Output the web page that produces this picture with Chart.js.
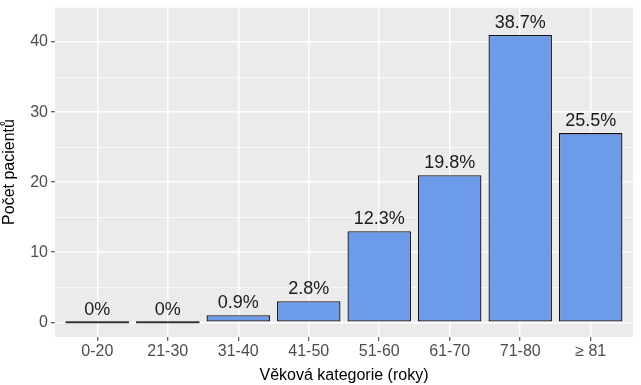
<!DOCTYPE html>
<html lang="cs">
<head>
<meta charset="UTF-8">
<title>Věková kategorie</title>
<script src="https://cdn.jsdelivr.net/npm/chart.js"></script>
<style>
  body { margin: 0; background: #fff; }
</style>
</head>
<body>
<canvas id="myChart" width="641" height="385"></canvas>
<script>
  const categories = ['0-20', '21-30', '31-40', '41-50', '51-60', '61-70', '71-80', '≥ 81'];
  const patients = [0, 0, 1, 3, 13, 21, 41, 27];
  const yTicks = [0, 5, 10, 15, 20, 25, 30, 35, 40, 45];

  const total = patients.reduce((a, b) => a + b, 0);
  const font = 'Liberation Sans, Arial, sans-serif';

  const panelBg = {
    id: 'panelBg',
    beforeDraw(chart) {
      const a = chart.chartArea;
      const c = chart.ctx;
      c.save();
      c.fillStyle = '#EBEBEB';
      c.fillRect(a.left, a.top, a.right - a.left, a.bottom - a.top);
      c.restore();
    }
  };

  const barLabels = {
    id: 'barLabels',
    afterDatasetsDraw(chart) {
      const c = chart.ctx;
      const meta = chart.getDatasetMeta(0);
      const y0 = chart.scales.y.getPixelForValue(0);
      c.save();
      meta.data.forEach((bar, i) => {
        const v = patients[i];
        if (v === 0) {
          c.strokeStyle = '#333333';
          c.lineWidth = 2;
          c.beginPath();
          c.moveTo(bar.x - bar.width / 2, y0);
          c.lineTo(bar.x + bar.width / 2, y0);
          c.stroke();
        }
        const txt = v === 0 ? '0%' : (v / total * 100).toFixed(1) + '%';
        c.fillStyle = '#1A1A1A';
        c.font = '18px ' + font;
        c.textAlign = 'center';
        c.textBaseline = 'alphabetic';
        c.fillText(txt, bar.x, bar.y - 7);
      });
      c.restore();
    }
  };

  new Chart(document.getElementById('myChart'), {
    type: 'bar',
    data: {
      datasets: [{
        data: patients.map((v, i) => ({ x: i + 1, y: v })),
        backgroundColor: '#6C9BEA',
        borderColor: '#111111',
        borderWidth: 1.3,
        borderSkipped: false,
        barPercentage: 0.9,
        categoryPercentage: 1
      }]
    },
    options: {
      responsive: false,
      animation: false,
      layout: { padding: { top: 7, right: 8, left: 0, bottom: 0 } },
      plugins: { legend: { display: false }, tooltip: { enabled: false } },
      scales: {
        x: {
          type: 'linear',
          min: 0.4,
          max: 8.6,
          offset: false,
          afterBuildTicks: s => { s.ticks = categories.map((c, i) => ({ value: i + 1 })); },
          afterFit: s => { s.height = 48; s.paddingLeft = 0; s.paddingRight = 0; },
          border: { display: false },
          grid: { offset: false, color: '#FFFFFF', lineWidth: 1.5, tickColor: '#333333', tickLength: 4, tickWidth: 1 },
          ticks: {
            autoSkip: false,
            maxRotation: 0,
            padding: 1,
            color: '#4D4D4D',
            font: { family: font, size: 16 },
            callback: v => categories[v - 1]
          },
          title: {
            display: true,
            text: 'Věková kategorie (roky)',
            color: '#000000',
            font: { family: font, size: 16 },
            padding: { top: 2, bottom: 0 }
          }
        },
        y: {
          min: -2.1,
          max: 45,
          afterBuildTicks: s => { s.ticks = yTicks.map(v => ({ value: v })); },
          afterFit: s => { s.width = 55; s.paddingTop = 0; s.paddingBottom = 0; },
          border: { display: false },
          grid: {
            color: '#FFFFFF',
            lineWidth: c => c.tick && c.tick.value % 10 === 0 ? 1.5 : 0.7,
            tickColor: c => c.tick && c.tick.value % 10 === 0 ? '#333333' : 'rgba(0,0,0,0)',
            tickLength: 4,
            tickWidth: 1
          },
          ticks: {
            padding: 3,
            color: '#4D4D4D',
            font: { family: font, size: 16 },
            callback: v => v % 10 === 0 ? String(v) : ''
          },
          title: {
            display: true,
            text: 'Počet pacientů',
            color: '#000000',
            font: { family: font, size: 16 },
            padding: { top: 0, bottom: 4 }
          }
        }
      }
    },
    plugins: [panelBg, barLabels]
  });
</script>
</body>
</html>
